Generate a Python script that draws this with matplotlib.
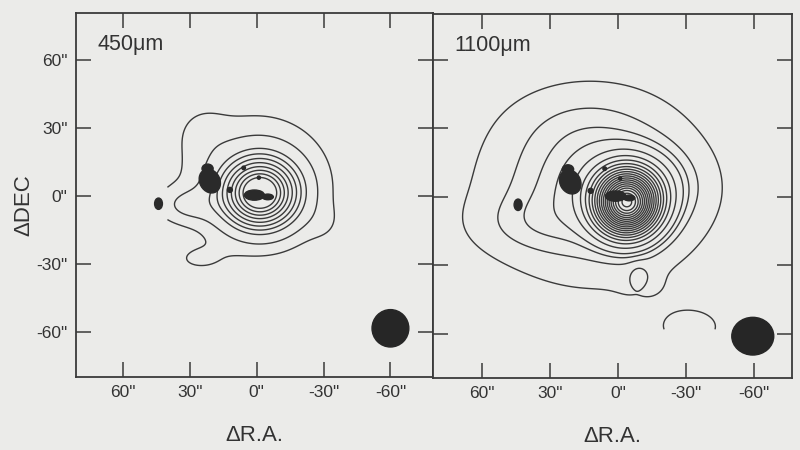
import numpy as np
import matplotlib
matplotlib.use("Agg")
import matplotlib.pyplot as plt
from matplotlib.patches import Ellipse

plt.rcParams['font.family'] = ['Liberation Sans', 'DejaVu Sans']

BG = '#ebebe9'
INK = '#3a3a3a'

# ---- tick values / labels ----
xticks = [60, 30, 0, -30, -60]
yticks = [60, 30, 0, -30, -60]
xticklabels = ['60"', '30"', '0"', '-30"', '-60"']
yticklabels = ['60"', '30"', '0"', '-30"', '-60"']
panel_titles = ['450\u03bcm', '1100\u03bcm']

# ---- 450 micron emission components ----
c450_x = [-1.5, -2.0, 5.0, 30.0, 24.0, -30.0, 26.0]
c450_y = [1.0, 5.0, 8.0, -4.0, 28.0, -12.0, -28.0]
c450_sx = [10.0, 16.0, 22.0, 9.0, 8.0, 6.0, 10.0]
c450_sy = [9.0, 15.0, 18.0, 5.0, 8.0, 6.0, 5.0]
c450_amp = [1.00, 0.13, 0.04, 0.09, 0.03, 0.02, 0.03]
lev450 = [0.03, 0.085, 0.19, 0.27, 0.36, 0.46, 0.57, 0.68, 0.79, 0.90]

# ---- 1100 micron emission components ----
c1100_x = [-4.0, -6.0, 10.0, 40.0, 15.0, -32.0, -12.0, -9.0]
c1100_y = [-3.0, 5.0, 3.0, -12.0, 32.0, -57.0, -40.0, -34.5]
c1100_sx = [9.0, 14.0, 30.0, 18.0, 22.0, 10.0, 8.0, 3.0]
c1100_sy = [9.0, 10.0, 24.0, 9.0, 12.0, 6.0, 5.0, 4.0]
c1100_amp = [1.00, 0.15, 0.10, 0.025, 0.02, 0.035, 0.012, -0.025]
lev1100 = [0.02, 0.05, 0.075, 0.10, 0.15, 0.21, 0.27, 0.33, 0.39, 0.45, 0.51,
           0.57, 0.63, 0.69, 0.75, 0.81, 0.87, 0.93, 0.99, 1.05, 1.11, 1.17]

# ---- dark features (same in both panels) ----
blob_x = [21.0, 22.0, 44.0, 1.0, -5.0, 12.0, 5.8, -1.0]
blob_y = [6.5, 12.0, -3.5, 0.3, -0.5, 2.6, 12.3, 8.0]
blob_w = [9.0, 5.0, 3.5, 9.0, 5.0, 2.2, 1.6, 1.4]
blob_h = [11.0, 4.0, 5.0, 4.5, 2.5, 2.2, 1.6, 1.4]
blob_ang = [-30.0, 0.0, 0.0, 0.0, 0.0, 0.0, 0.0, 0.0]

# ---- beams ----
beam_x = [-60.0, -59.5]
beam_y = [-58.5, -61.0]
beam_w = [16.5, 18.5]
beam_h = [16.5, 16.5]

xlims = [(81.0, -79.0), (81.6, -76.8)]
ylims = [(-80.0, 80.7), (-79.3, 80.0)]
ax_rects = [(0.095, 0.1622, 0.446, 0.809), (0.541, 0.160, 0.449, 0.809)]

gx = np.arange(-85, 86, 0.5)
GX, GY = np.meshgrid(gx, gx)


def field(cx, cy, sx, sy, amp):
    z = np.zeros_like(GX)
    for x0, y0, a, b, A in zip(cx, cy, sx, sy, amp):
        z += A * np.exp(-0.5 * (((GX - x0) / a) ** 2 + ((GY - y0) / b) ** 2))
    return z


# mapped (observed) area of each map
z450 = field(c450_x, c450_y, c450_sx, c450_sy, c450_amp)
m450 = (GX > 40) | (GX < -44) | (GY < -36) | ((GX + GY) < -52)
z1100 = field(c1100_x, c1100_y, c1100_sx, c1100_sy, c1100_amp)
m1100 = ((GX - GY) > 92) | (GY < -58) | (np.hypot(GX, GY) > 76)

fields = [np.ma.masked_where(m450, z450), np.ma.masked_where(m1100, z1100)]
levels = [lev450, lev1100]

fig = plt.figure(figsize=(8, 4.5), dpi=100, facecolor=BG)

for i in range(2):
    ax = fig.add_axes(ax_rects[i], facecolor=BG)
    ax.contour(GX, GY, fields[i], levels=levels[i], colors=INK, linewidths=1.0)
    for bx, by, bw, bh, ba in zip(blob_x, blob_y, blob_w, blob_h, blob_ang):
        ax.add_patch(Ellipse((bx, by), bw, bh, angle=ba, color='#2a2a2a', zorder=3))
    ax.add_patch(Ellipse((beam_x[i], beam_y[i]), beam_w[i], beam_h[i],
                         color='#262626', zorder=3))
    ax.set_xlim(*xlims[i])
    ax.set_ylim(*ylims[i])
    ax.set_xticks(xticks)
    ax.set_xticklabels(xticklabels)
    ax.set_yticks(yticks)
    ax.set_yticklabels(yticklabels)
    ax.tick_params(direction='in', length=11, width=1.1, top=True, right=True,
                   labelsize=12.5, pad=6, colors=INK, labelcolor='#333333',
                   labelleft=(i == 0))
    for sp in ax.spines.values():
        sp.set_linewidth(1.3)
        sp.set_color(INK)
    ax.text(0.059, 0.912, panel_titles[i], transform=ax.transAxes,
            fontsize=15.5, color='#333333', va='center', ha='left')
    ax.set_xlabel('\u0394R.A.', fontsize=16, color='#333333', labelpad=18)

fig.text(24 / 800, 1 - 205 / 450, '\u0394DEC', rotation=90, fontsize=16,
         color='#333333', ha='center', va='center')

fig.savefig('out.png', dpi=100, facecolor=BG)
